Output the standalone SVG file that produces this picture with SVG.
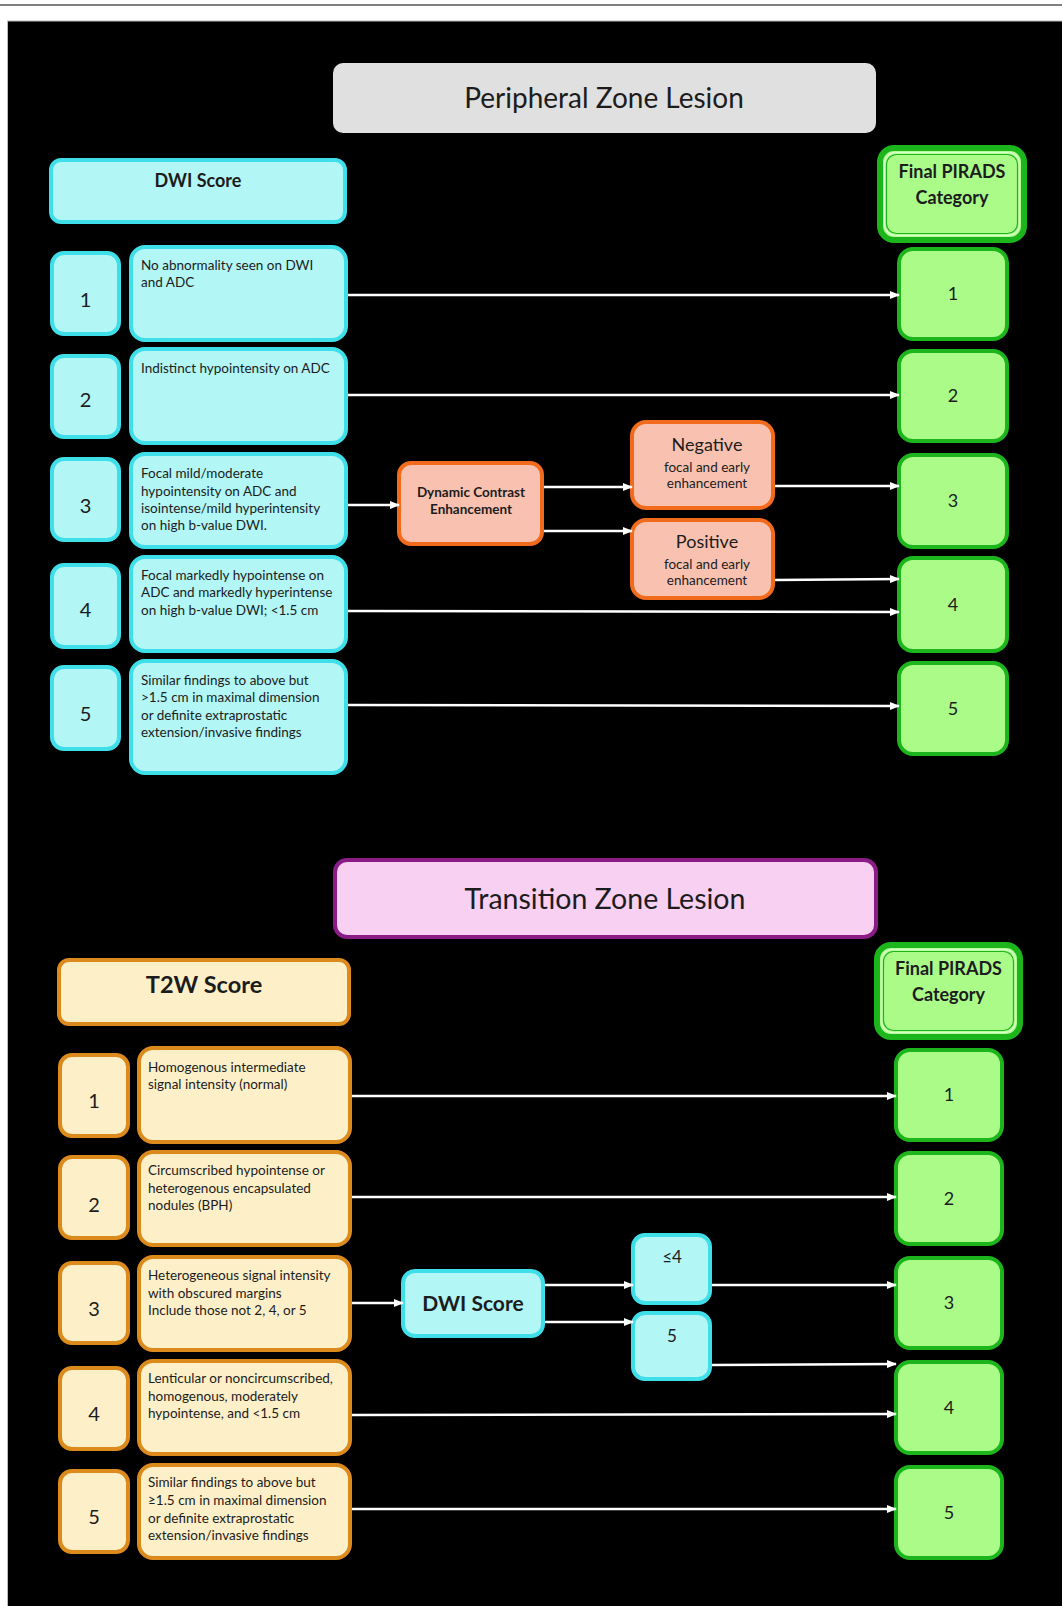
<svg xmlns="http://www.w3.org/2000/svg" width="1062" height="1606" viewBox="0 0 1062 1606">
<defs>
<marker id="ah" markerUnits="userSpaceOnUse" markerWidth="10" markerHeight="8" refX="9" refY="4" orient="auto">
<path d="M0,0 L10,4 L0,8 Z" fill="#ffffff"/>
</marker>
<style>
text{font-family:Lato,"Open Sans","Liberation Sans",sans-serif;fill:#1c1c1c}
.cy{fill:#b2f6f6;stroke:#3fdfea;stroke-width:4}
.gr{fill:#abfb89;stroke:#1cb51c;stroke-width:4}
.or{fill:#f9c2b0;stroke:#f26b1d;stroke-width:4}
.ye{fill:#fdf0c8;stroke:#dc8a1c;stroke-width:4}
.pk{fill:#f7d0f2;stroke:#8b1c86;stroke-width:4}
.num{font-size:20px;text-anchor:middle}
.fnum{font-size:18px;text-anchor:middle}
.d{font-size:13.5px}
.b{font-weight:bold;text-anchor:middle}
.c{text-anchor:middle}
.conn line{stroke:#ffffff;stroke-width:2.6;marker-end:url(#ah)}
</style>
</defs>
<rect x="0" y="0" width="1062" height="1606" fill="#ffffff"/>
<line x1="0" y1="5" x2="1062" y2="5" stroke="#555555" stroke-width="1.5"/>
<rect x="7.5" y="21" width="1056" height="1586" fill="#000000" stroke="#bbbbbb" stroke-width="1"/>

<!-- Peripheral zone -->
<g id="pz-title"><rect x="333" y="63" width="543" height="70" rx="10" fill="#e0e0e0"/><text x="604" y="108" class="c" style="font-size:28px">Peripheral Zone Lesion</text></g>
<g id="pz-dwi-header"><rect class="cy" x="51" y="160" width="294" height="62" rx="10"/><text x="198" y="187" class="b" style="font-size:18px">DWI Score</text></g>
<g id="pz-final-header"><rect x="880" y="148" width="144" height="92" rx="14" fill="#abfb89" stroke="#1cb51c" stroke-width="6"/><rect x="884.5" y="152.5" width="135" height="83" rx="11" fill="none" stroke="#d8ffc8" stroke-width="1.5"/><rect x="886.5" y="154.5" width="131" height="79" rx="10" fill="none" stroke="#1cb51c" stroke-width="1.2"/><text x="952" y="178" class="b" style="font-size:18px">Final PIRADS</text><text x="952" y="204" class="b" style="font-size:18px">Category</text></g>

<g id="pz-n1"><rect class="cy" x="52" y="253" width="67" height="81" rx="12"/><text x="85.5" y="307" class="num">1</text></g>
<g id="pz-n2"><rect class="cy" x="52" y="356" width="67" height="81" rx="12"/><text x="85.5" y="407" class="num">2</text></g>
<g id="pz-n3"><rect class="cy" x="52" y="459" width="67" height="81" rx="12"/><text x="85.5" y="513" class="num">3</text></g>
<g id="pz-n4"><rect class="cy" x="52" y="565" width="67" height="82" rx="12"/><text x="85.5" y="617" class="num">4</text></g>
<g id="pz-n5"><rect class="cy" x="52" y="667" width="67" height="82" rx="12"/><text x="85.5" y="721" class="num">5</text></g>

<g id="pz-d1"><rect class="cy" x="131" y="247" width="215" height="93" rx="14"/><text class="d" x="141" y="270">No abnormality seen on DWI</text><text class="d" x="141" y="287">and ADC</text></g>
<g id="pz-d2"><rect class="cy" x="131" y="349" width="215" height="94" rx="14"/><text class="d" x="141" y="373">Indistinct hypointensity on ADC</text></g>
<g id="pz-d3"><rect class="cy" x="131" y="454" width="215" height="93" rx="14"/><text class="d" x="141" y="478">Focal mild/moderate</text><text class="d" x="141" y="496">hypointensity on ADC and</text><text class="d" x="141" y="513">isointense/mild hyperintensity</text><text class="d" x="141" y="530">on high b-value DWI.</text></g>
<g id="pz-d4"><rect class="cy" x="131" y="557" width="215" height="94" rx="14"/><text class="d" x="141" y="580">Focal markedly hypointense on</text><text class="d" x="141" y="597">ADC and markedly hyperintense</text><text class="d" x="141" y="615">on high b-value DWI; &lt;1.5 cm</text></g>
<g id="pz-d5"><rect class="cy" x="131" y="661" width="215" height="112" rx="14"/><text class="d" x="141" y="685">Similar findings to above but</text><text class="d" x="141" y="702">&gt;1.5 cm in maximal dimension</text><text class="d" x="141" y="720">or definite extraprostatic</text><text class="d" x="141" y="737">extension/invasive findings</text></g>

<g id="pz-dce"><rect class="or" x="399" y="463" width="143" height="81" rx="12"/><text x="471" y="497" class="b" style="font-size:13.5px">Dynamic Contrast</text><text x="471" y="514" class="b" style="font-size:13.5px">Enhancement</text></g>
<g id="pz-neg"><rect class="or" x="632" y="422" width="141" height="86" rx="14"/><text x="707" y="451" class="c" style="font-size:18px">Negative</text><text x="707" y="472" class="c d">focal and early</text><text x="707" y="488" class="c d">enhancement</text></g>
<g id="pz-pos"><rect class="or" x="632" y="520" width="141" height="78" rx="14"/><text x="707" y="548" class="c" style="font-size:18px">Positive</text><text x="707" y="569" class="c d">focal and early</text><text x="707" y="585" class="c d">enhancement</text></g>

<g id="pz-f1"><rect class="gr" x="899" y="249" width="108" height="90" rx="14"/><text x="953" y="300" class="fnum">1</text></g>
<g id="pz-f2"><rect class="gr" x="899" y="351" width="108" height="90" rx="14"/><text x="953" y="402" class="fnum">2</text></g>
<g id="pz-f3"><rect class="gr" x="899" y="455" width="108" height="92" rx="14"/><text x="953" y="507" class="fnum">3</text></g>
<g id="pz-f4"><rect class="gr" x="899" y="558" width="108" height="93" rx="14"/><text x="953" y="611" class="fnum">4</text></g>
<g id="pz-f5"><rect class="gr" x="899" y="663" width="108" height="91" rx="14"/><text x="953" y="715" class="fnum">5</text></g>

<!-- Transition zone -->
<g id="tz-title"><rect class="pk" x="335" y="860" width="541" height="77" rx="12"/><text x="605" y="909" class="c" style="font-size:28.5px">Transition Zone Lesion</text></g>
<g id="tz-t2w-header"><rect class="ye" x="59" y="960" width="290" height="64" rx="10"/><text x="204" y="993" class="b" style="font-size:23.5px">T2W Score</text></g>
<g id="tz-final-header"><rect x="877" y="945" width="143" height="92" rx="14" fill="#abfb89" stroke="#1cb51c" stroke-width="6"/><rect x="881.5" y="949.5" width="134" height="83" rx="11" fill="none" stroke="#d8ffc8" stroke-width="1.5"/><rect x="883.5" y="951.5" width="130" height="79" rx="10" fill="none" stroke="#1cb51c" stroke-width="1.2"/><text x="948.5" y="975" class="b" style="font-size:18px">Final PIRADS</text><text x="948.5" y="1001" class="b" style="font-size:18px">Category</text></g>

<g id="tz-n1"><rect class="ye" x="60" y="1055" width="68" height="81" rx="12"/><text x="94" y="1108" class="num">1</text></g>
<g id="tz-n2"><rect class="ye" x="60" y="1157" width="68" height="81" rx="12"/><text x="94" y="1212" class="num">2</text></g>
<g id="tz-n3"><rect class="ye" x="60" y="1263" width="68" height="80" rx="12"/><text x="94" y="1316" class="num">3</text></g>
<g id="tz-n4"><rect class="ye" x="60" y="1368" width="68" height="81" rx="12"/><text x="94" y="1421" class="num">4</text></g>
<g id="tz-n5"><rect class="ye" x="60" y="1471" width="68" height="81" rx="12"/><text x="94" y="1524" class="num">5</text></g>

<g id="tz-d1"><rect class="ye" x="139" y="1048" width="211" height="94" rx="14"/><text class="d" x="148" y="1072">Homogenous intermediate</text><text class="d" x="148" y="1089">signal intensity (normal)</text></g>
<g id="tz-d2"><rect class="ye" x="139" y="1152" width="211" height="93" rx="14"/><text class="d" x="148" y="1175">Circumscribed hypointense or</text><text class="d" x="148" y="1193">heterogenous encapsulated</text><text class="d" x="148" y="1210">nodules (BPH)</text></g>
<g id="tz-d3"><rect class="ye" x="139" y="1257" width="211" height="93" rx="14"/><text class="d" x="148" y="1280">Heterogeneous signal intensity</text><text class="d" x="148" y="1298">with obscured margins</text><text class="d" x="148" y="1315">Include those not 2, 4, or 5</text></g>
<g id="tz-d4"><rect class="ye" x="139" y="1361" width="211" height="93" rx="14"/><text class="d" x="148" y="1383">Lenticular or noncircumscribed,</text><text class="d" x="148" y="1401">homogenous, moderately</text><text class="d" x="148" y="1418">hypointense, and &lt;1.5 cm</text></g>
<g id="tz-d5"><rect class="ye" x="139" y="1465" width="211" height="93" rx="14"/><text class="d" x="148" y="1487">Similar findings to above but</text><text class="d" x="148" y="1505">≥1.5 cm in maximal dimension</text><text class="d" x="148" y="1523">or definite extraprostatic</text><text class="d" x="148" y="1540">extension/invasive findings</text></g>

<g id="tz-dwi"><rect class="cy" x="403" y="1271" width="140" height="65" rx="12"/><text x="473" y="1311" class="b" style="font-size:21px">DWI Score</text></g>
<g id="tz-le4"><rect class="cy" x="633" y="1235" width="77" height="68" rx="12"/><text x="672" y="1263" class="c" style="font-size:17px">≤4</text></g>
<g id="tz-5"><rect class="cy" x="633" y="1313" width="77" height="66" rx="12"/><text x="672" y="1342" class="c" style="font-size:17px">5</text></g>

<g id="tz-f1"><rect class="gr" x="896" y="1050" width="106" height="90" rx="14"/><text x="949" y="1101" class="fnum">1</text></g>
<g id="tz-f2"><rect class="gr" x="896" y="1153" width="106" height="91" rx="14"/><text x="949" y="1205" class="fnum">2</text></g>
<g id="tz-f3"><rect class="gr" x="896" y="1258" width="106" height="90" rx="14"/><text x="949" y="1309" class="fnum">3</text></g>
<g id="tz-f4"><rect class="gr" x="896" y="1362" width="106" height="91" rx="14"/><text x="949" y="1414" class="fnum">4</text></g>
<g id="tz-f5"><rect class="gr" x="896" y="1467" width="106" height="91" rx="14"/><text x="949" y="1519" class="fnum">5</text></g>

<g id="connectors" class="conn">
<line x1="348" y1="295" x2="899" y2="295"/>
<line x1="348" y1="395" x2="899" y2="395"/>
<line x1="348" y1="505" x2="399" y2="505"/>
<line x1="544" y1="487" x2="632" y2="487"/>
<line x1="544" y1="531" x2="632" y2="531"/>
<line x1="775" y1="486" x2="899" y2="486"/>
<line x1="775" y1="580" x2="899" y2="579"/>
<line x1="348" y1="611" x2="899" y2="612"/>
<line x1="348" y1="705" x2="899" y2="706"/>
<line x1="352" y1="1096" x2="896" y2="1096"/>
<line x1="352" y1="1197" x2="896" y2="1197"/>
<line x1="352" y1="1303" x2="403" y2="1303"/>
<line x1="545" y1="1285" x2="633" y2="1285"/>
<line x1="545" y1="1322" x2="633" y2="1322"/>
<line x1="712" y1="1285" x2="896" y2="1285"/>
<line x1="712" y1="1365" x2="896" y2="1364"/>
<line x1="352" y1="1415" x2="896" y2="1414"/>
<line x1="352" y1="1509" x2="896" y2="1509"/>
</g>
</svg>
